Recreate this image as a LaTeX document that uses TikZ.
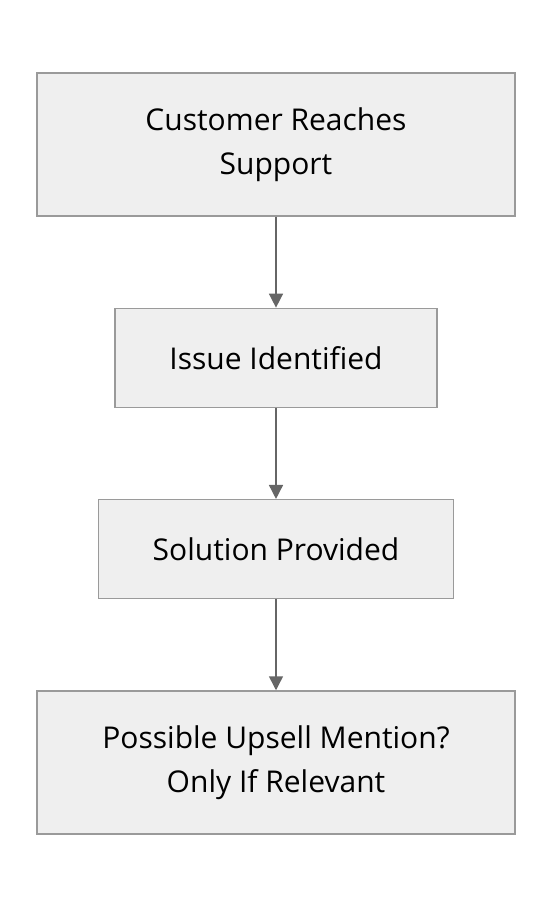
\documentclass[tikz,border=0pt]{standalone}
\usepackage{fontspec}
\setmainfont{Open Sans}
\usetikzlibrary{positioning,arrows.meta}
\definecolor{boxfill}{HTML}{EFEFEF}
\definecolor{boxline}{HTML}{9A9A9A}
\definecolor{arrowline}{HTML}{666666}

\begin{document}
\begin{tikzpicture}[x=1pt, y=1pt, node distance={91pt},
                    stepbox/.style = {draw=boxline, fill=boxfill, line width=1.3pt, align=center,
                                      font=\fontsize{30}{44}\selectfont, inner sep=0pt},
                    flow/.style = {-{Triangle[length=14pt, width=14pt]}, draw=arrowline, line width=1.5pt}]
        \useasboundingbox (0,0) rectangle (552,-908);
        \node[stepbox, minimum width=478pt, minimum height=143pt] (reach) at (276,-144.5) {Customer Reaches\\Support};
        \node[stepbox, minimum width=322pt, minimum height=99pt] (issue) [below=of reach] {Issue Identified};
        \node[stepbox, minimum width=355pt, minimum height=99pt] (solution) [below=of issue] {Solution Provided};
        \node[stepbox, minimum width=478pt, minimum height=143pt] (upsell) [below=of solution] {Possible Upsell Mention?\\Only If Relevant};
        \draw[flow] (reach) -- (issue);
        \draw[flow] (issue) -- (solution);
        \draw[flow] (solution) -- (upsell);
    \end{tikzpicture}
\end{document}
